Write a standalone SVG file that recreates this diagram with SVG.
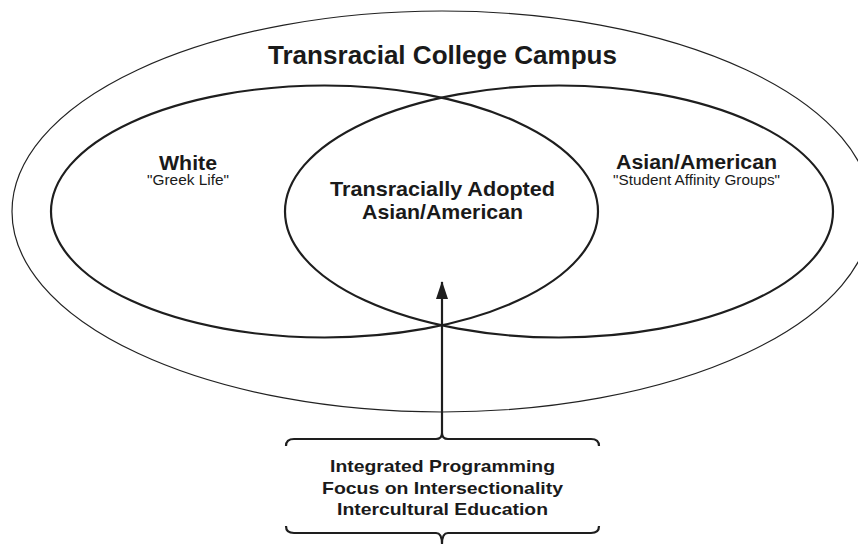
<svg xmlns="http://www.w3.org/2000/svg" width="858" height="544" viewBox="0 0 858 544">
<defs>
<style>
.outer{fill:none;stroke:#222;stroke-width:1.2}
.inner{fill:none;stroke:#1e1e1e;stroke-width:2.2}
.conn{fill:none;stroke:#1e1e1e;stroke-width:2.2}
.brace{fill:none;stroke:#1e1e1e;stroke-width:2.2;stroke-linejoin:round}
text{font-family:"Liberation Sans",Arial,sans-serif;fill:#1a1a1a;text-anchor:middle}
.h{font-weight:bold}
</style>
<marker id="ah" markerWidth="18" markerHeight="12" refX="17" refY="6" orient="auto" markerUnits="userSpaceOnUse" viewBox="0 0 18 12">
<path d="M0,0 L18,6 L0,12 Z" fill="#1e1e1e"/>
</marker>
</defs>
<rect width="858" height="544" fill="#fff"/>
<g id="campus">
<ellipse class="outer" cx="442" cy="211.5" rx="430" ry="200.5"/>
<text class="h" x="442.5" y="63.5" font-size="26" textLength="349" lengthAdjust="spacingAndGlyphs">Transracial College Campus</text>
</g>
<g id="white">
<ellipse class="inner" cx="324.5" cy="211.5" rx="273.5" ry="126"/>
<text class="h" x="188" y="169.5" font-size="20" textLength="58" lengthAdjust="spacingAndGlyphs">White</text>
<text x="188" y="184.5" font-size="14.5" textLength="82" lengthAdjust="spacingAndGlyphs">"Greek Life"</text>
</g>
<g id="asian">
<ellipse class="inner" cx="559" cy="211.5" rx="274" ry="126"/>
<text class="h" x="696.5" y="168.5" font-size="20" textLength="161" lengthAdjust="spacingAndGlyphs">Asian/American</text>
<text x="696.5" y="184.5" font-size="14.5" textLength="167" lengthAdjust="spacingAndGlyphs">"Student Affinity Groups"</text>
</g>
<g id="adopted">
<text class="h" x="442.5" y="195.5" font-size="21" textLength="225" lengthAdjust="spacingAndGlyphs">Transracially Adopted</text>
<text class="h" x="442.5" y="218.5" font-size="21" textLength="161" lengthAdjust="spacingAndGlyphs">Asian/American</text>
</g>
<g id="programming">
<path class="brace" d="M286,446 Q286,439 294,439 L436,439 Q442,439 442,433 Q442,439 448,439 L591,439 Q599,439 599,446"/>
<path class="brace" d="M286,526 Q286,533 294,533 L436,533 Q442,533 442,544 Q442,533 448,533 L591,533 Q599,533 599,526"/>
<text class="h" x="442.5" y="472" font-size="17" textLength="225" lengthAdjust="spacingAndGlyphs">Integrated Programming</text>
<text class="h" x="442.5" y="494" font-size="17" textLength="241" lengthAdjust="spacingAndGlyphs">Focus on Intersectionality</text>
<text class="h" x="442.5" y="515" font-size="17" textLength="211" lengthAdjust="spacingAndGlyphs">Intercultural Education</text>
</g>
<g id="connectors">
<line class="conn" x1="442" y1="433" x2="442" y2="282" marker-end="url(#ah)"/>
</g>
</svg>
